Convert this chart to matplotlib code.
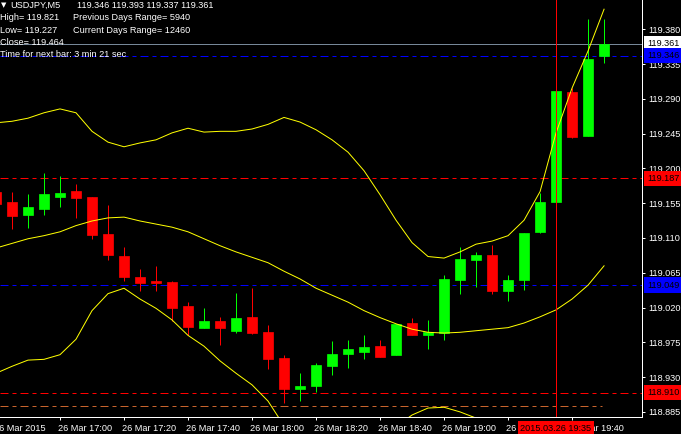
import matplotlib
matplotlib.use("Agg")
import matplotlib.pyplot as plt
import numpy as np

plt.rcParams['font.family'] = ['Liberation Sans', 'DejaVu Sans']

# 5-minute bars, 26 Mar 2015
times = ['16:40', '16:45', '16:50', '16:55', '17:00', '17:05', '17:10', '17:15',
         '17:20', '17:25', '17:30', '17:35', '17:40', '17:45', '17:50', '17:55',
         '18:00', '18:05', '18:10', '18:15', '18:20', '18:25', '18:30', '18:35',
         '18:40', '18:45', '18:50', '18:55', '19:00', '19:05', '19:10', '19:15',
         '19:20', '19:25', '19:30', '19:35', '19:40', '19:45', '19:50']
opens = [119.170, 119.157, 119.140, 119.148, 119.163, 119.171, 119.163, 119.115,
         119.087, 119.060, 119.054, 119.053, 119.022, 118.994, 119.003, 118.990,
         119.008, 118.988, 118.955, 118.914, 118.918, 118.945, 118.960, 118.963,
         118.970, 118.958, 119.000, 118.984, 118.987, 119.056, 119.082, 119.088,
         119.042, 119.055, 119.118, 119.156, 119.299, 119.242, 119.346]
highs = [119.175, 119.170, 119.167, 119.194, 119.190, 119.180, 119.163, 119.153,
         119.098, 119.070, 119.074, 119.054, 119.027, 119.019, 119.008, 119.039,
         119.045, 118.997, 118.958, 118.935, 118.948, 118.977, 118.978, 118.985,
         118.978, 118.999, 119.007, 119.004, 119.062, 119.098, 119.092, 119.101,
         119.062, 119.116, 119.168, 119.300, 119.304, 119.393, 119.393]
lows = [119.149, 119.122, 119.123, 119.140, 119.150, 119.136, 119.109, 119.082,
        119.054, 119.041, 119.042, 119.002, 118.984, 118.994, 118.972, 118.987,
        118.986, 118.940, 118.897, 118.899, 118.911, 118.933, 118.942, 118.954,
        118.956, 118.958, 118.985, 118.967, 118.978, 119.037, 119.046, 119.037,
        119.029, 119.043, 119.116, 119.156, 119.240, 119.242, 119.337]
closes = [119.154, 119.139, 119.150, 119.167, 119.168, 119.162, 119.114, 119.088,
          119.060, 119.052, 119.052, 119.020, 118.995, 119.003, 118.993, 119.007,
          118.987, 118.954, 118.914, 118.919, 118.946, 118.960, 118.966, 118.969,
          118.956, 118.999, 118.985, 118.988, 119.057, 119.083, 119.088, 119.041,
          119.056, 119.116, 119.157, 119.300, 119.241, 119.342, 119.361]

# Bollinger bands
bb_upper = [119.259, 119.261, 119.265, 119.272, 119.277, 119.272, 119.248, 119.234,
            119.228, 119.233, 119.237, 119.246, 119.252, 119.247, 119.248, 119.248,
            119.251, 119.257, 119.266, 119.260, 119.250, 119.237, 119.221, 119.197,
            119.166, 119.133, 119.104, 119.086, 119.084, 119.092, 119.102, 119.106,
            119.113, 119.133, 119.170, 119.246, 119.304, 119.352, 119.406]
bb_middle = [119.097, 119.103, 119.109, 119.113, 119.118, 119.126, 119.132, 119.136,
             119.137, 119.132, 119.128, 119.124, 119.118, 119.109, 119.100, 119.092,
             119.085, 119.078, 119.067, 119.057, 119.045, 119.036, 119.027, 119.016,
             119.007, 118.999, 118.992, 118.988, 118.987, 118.988, 118.990, 118.992,
             118.994, 119.000, 119.008, 119.017, 119.031, 119.049, 119.074]
bb_lower = [118.935, 118.944, 118.952, 118.953, 118.959, 118.979, 119.016, 119.038,
            119.045, 119.031, 119.019, 119.004, 118.984, 118.970, 118.951, 118.935,
            118.920, 118.899, 118.867, 118.854, 118.841, 118.836, 118.832, 118.834,
            118.847, 118.866, 118.881, 118.890, 118.891, 118.885, 118.877, 118.877,
            118.876, 118.867, 118.846, 118.788, 118.758, 118.746, 118.741]

bid = 119.361
blue_levels = [119.346, 119.049]
red_levels = [119.187, 118.910]
prev_low = 118.893
marker_time = '19:35'
marker_label = '2015.03.26 19:35'

y_ticks = [118.885, 118.930, 118.975, 119.020, 119.065, 119.110, 119.155,
           119.200, 119.245, 119.290, 119.335, 119.380]
x_tick_times = ['17:00', '17:20', '17:40', '18:00', '18:20', '18:40', '19:00',
                '19:20', '19:40']
first_label = '26 Mar 2015'

header = [
    ('USDJPY,M5', '119.346 119.393 119.337 119.361'),
    ('High= 119.821', 'Previous Days Range= 5940'),
    ('Low= 119.227', 'Current Days Range= 12460'),
    ('Close= 119.464', ''),
    ('Time for next bar: 3 min 21 sec', ''),
]

W, H = 681, 434
px = 0.72  # one pixel in points at dpi 100
fig = plt.figure(figsize=(W / 100, H / 100), dpi=100, facecolor='black')
ax = fig.add_axes([0, 17 / H, 641.5 / W, 417 / H], facecolor='black')

x = np.arange(len(times))
o, h, l, c = map(np.array, (opens, highs, lows, closes))
cols = np.where(c >= o, '#00ff00', '#ff0000')

dash = (0, (8, 4, 4, 4))
ax.axhline(bid, color='#778899', lw=px, zorder=1)
for v in blue_levels:
    ax.axhline(v, color='#0000ff', lw=px, linestyle=dash, zorder=1)
for v in red_levels:
    ax.axhline(v, color='#ff0000', lw=px, linestyle=dash, zorder=1)
ax.hlines(prev_low, 0.25, 37.9, color='#c8642d', lw=px, linestyles=[dash], zorder=1)

ax.vlines(x, l, h, colors=cols, lw=px, zorder=2)
ax.bar(x, np.abs(c - o), bottom=np.minimum(o, c), width=0.66, color=cols,
       edgecolor=cols, linewidth=0.5, zorder=3)

for band in (bb_upper, bb_middle, bb_lower):
    ax.plot(x, band, color='#ffff00', lw=px, zorder=4)

ax.axvline(times.index(marker_time), color='#ff0000', lw=px, zorder=5)

ax.set_xlim(0.25, 40.34)
ax.set_ylim(118.8784, 119.4179)

for s in ('top', 'left'):
    ax.spines[s].set_visible(False)
for s in ('right', 'bottom'):
    ax.spines[s].set_color('white')
    ax.spines[s].set_linewidth(px)

ax.yaxis.tick_right()
ax.set_yticks(y_ticks)
ax.set_yticklabels([f'{v:.3f}' for v in y_ticks])
ax.tick_params(axis='y', colors='white', length=2.2, width=px, pad=3, labelsize=6.6)

ax.set_xticks([times.index(t) for t in x_tick_times])
ax.set_xticklabels(['26 Mar ' + t for t in x_tick_times], ha='left')
ax.tick_params(axis='x', colors='white', length=2.2, width=px, pad=2.5, labelsize=6.6)
import matplotlib.transforms as mtransforms
shift = mtransforms.ScaledTranslation(-2 / 100, 0, fig.dpi_scale_trans)
for lab in ax.get_xticklabels():
    lab.set_transform(lab.get_transform() + shift)

ax.annotate(first_label, xy=(0, 0), xycoords=('data', 'axes fraction'),
            xytext=(-1.5, -4.7), textcoords='offset points', ha='left', va='top',
            color='white', fontsize=6.6, annotation_clip=False)
ax.annotate(marker_label, xy=(times.index(marker_time), 0),
            xycoords=('data', 'axes fraction'), xytext=(0, -4.7),
            textcoords='offset points', ha='center', va='top', color='black',
            fontsize=6.6, annotation_clip=False, zorder=10,
            bbox=dict(boxstyle='square,pad=0.25', fc='#ff0000', ec='none'))

# price labels on the right scale
for v, fc in [(bid, 'white'), (blue_levels[0], '#0000ff'), (red_levels[0], '#ff0000'),
              (blue_levels[1], '#0000ff'), (red_levels[1], '#ff0000')]:
    ax.annotate(f'{v:.3f}', xy=(1, v), xycoords=('axes fraction', 'data'),
                xytext=(4.3, 0), textcoords='offset points', ha='left', va='center',
                color='black', fontsize=6.6, annotation_clip=False, zorder=10,
                bbox=dict(boxstyle='square,pad=0.35', fc=fc, ec='none'))

# header text
baselines = [8.3, 20.3, 32.8, 45.2, 57.3]
fig.text(1 / W, 1 - 7.5 / H, '\u25bc', color='white', fontsize=5,
         family='DejaVu Sans', va='baseline')
for i, (a, b) in enumerate(header):
    yb = 1 - baselines[i] / H
    fig.text((10 if i == 0 else 0) / W, yb, a, color='white', fontsize=6.6, va='baseline')
    if b:
        fig.text((77 if i == 0 else 73) / W, yb, b, color='white', fontsize=6.6,
                 va='baseline')

fig.savefig('out.png', dpi=100, facecolor='black')
